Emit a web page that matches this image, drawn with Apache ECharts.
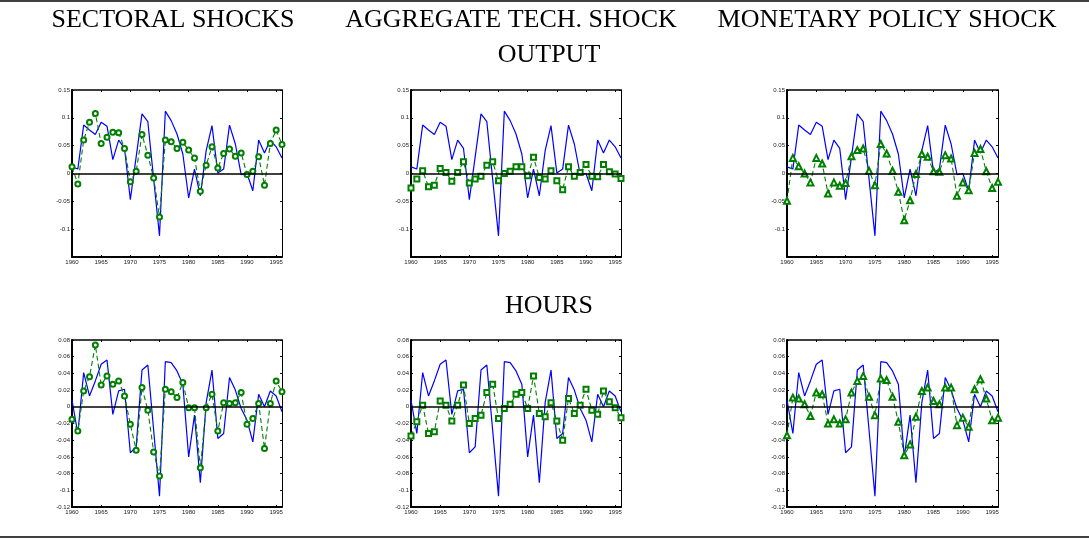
<!DOCTYPE html>
<html>
<head>
<meta charset="utf-8">
<title>Output and hours</title>
<script src="https://cdn.jsdelivr.net/npm/echarts@6/dist/echarts.min.js"></script>
<style>
  html, body { margin: 0; padding: 0; background: #fff; }
  #myChart { width: 1089px; height: 541px; }
</style>
</head>
<body>
<div id="myChart"></div>
<script>
var years = [1960,1961,1962,1963,1964,1965,1966,1967,1968,1969,1970,1971,1972,1973,1974,1975,1976,1977,1978,1979,1980,1981,1982,1983,1984,1985,1986,1987,1988,1989,1990,1991,1992,1993,1994,1995,1996];

var columnTitles = ['SECTORAL SHOCKS', 'AGGREGATE TECH. SHOCK', 'MONETARY POLICY SHOCK'];
var rowTitles = ['OUTPUT', 'HOURS'];

// actual data (blue)
var outputActual = [0.012,0.008,0.087,0.078,0.070,0.092,0.085,0.025,0.060,0.045,-0.047,0.030,0.107,0.093,-0.010,-0.112,0.112,0.095,0.071,0.035,-0.044,0.008,-0.040,0.041,0.086,0.001,0.008,0.087,0.053,-0.002,0.000,-0.031,0.060,0.037,0.060,0.048,0.028];
var hoursActual = [0.008,-0.032,0.041,0.013,0.031,0.051,0.056,-0.009,0.019,0.021,-0.055,-0.048,0.044,0.050,-0.028,-0.107,0.054,0.053,0.043,0.027,-0.060,-0.010,-0.091,0.005,0.044,-0.038,-0.032,0.035,0.020,-0.002,-0.016,-0.042,0.015,0.000,0.019,0.013,-0.006];

// simulated (green)
var outputSectoral = [0.012,-0.019,0.060,0.092,0.108,0.054,0.065,0.074,0.073,0.045,-0.015,0.004,0.070,0.033,-0.008,-0.078,0.060,0.057,0.045,0.056,0.042,0.028,-0.032,0.015,0.048,0.010,0.036,0.044,0.031,0.037,-0.002,0.004,0.030,-0.021,0.054,0.078,0.052];
var outputTech = [-0.026,-0.010,0.005,-0.024,-0.021,0.009,0.002,-0.014,0.002,0.021,-0.017,-0.010,-0.005,0.015,0.021,-0.013,0.000,0.004,0.012,0.012,-0.004,0.029,-0.007,-0.010,0.005,-0.013,-0.029,0.012,-0.005,0.002,0.016,-0.005,-0.006,0.016,0.003,-0.001,-0.009];
var outputMonetary = [-0.049,0.028,0.013,0.000,-0.016,0.028,0.018,-0.036,-0.016,-0.022,-0.017,0.031,0.042,0.045,0.005,-0.021,0.053,0.036,0.005,-0.033,-0.084,-0.048,-0.001,0.035,0.030,0.004,0.003,0.033,0.027,-0.040,-0.016,-0.030,0.037,0.044,0.004,-0.026,-0.015];
var hoursSectoral = [-0.015,-0.029,0.019,0.036,0.074,0.026,0.037,0.027,0.031,0.013,-0.021,-0.052,0.023,-0.004,-0.054,-0.083,0.021,0.018,0.011,0.029,-0.001,-0.001,-0.073,-0.001,0.015,-0.029,0.005,0.004,0.005,0.017,-0.021,-0.014,0.004,-0.050,0.004,0.031,0.018];
var hoursTech = [-0.035,-0.018,0.002,-0.032,-0.030,0.007,0.002,-0.017,0.002,0.026,-0.020,-0.014,-0.010,0.017,0.027,-0.014,-0.002,0.003,0.015,0.017,-0.002,0.037,-0.008,-0.012,0.005,-0.017,-0.040,0.010,-0.008,0.002,0.021,-0.004,-0.009,0.019,0.006,-0.001,-0.013];
var hoursMonetary = [-0.034,0.011,0.010,0.003,-0.011,0.017,0.015,-0.020,-0.015,-0.020,-0.015,0.017,0.031,0.037,0.012,-0.010,0.034,0.032,0.012,-0.018,-0.058,-0.045,-0.012,0.019,0.023,0.007,0.003,0.023,0.023,-0.022,-0.013,-0.024,0.021,0.033,0.010,-0.016,-0.013];

var markers = ['emptyCircle', 'emptyRect', 'emptyTriangle'];

var panels = [
  {actual: outputActual, sim: outputSectoral, col: 0, row: 0},
  {actual: outputActual, sim: outputTech, col: 1, row: 0},
  {actual: outputActual, sim: outputMonetary, col: 2, row: 0},
  {actual: hoursActual, sim: hoursSectoral, col: 0, row: 1},
  {actual: hoursActual, sim: hoursTech, col: 1, row: 1},
  {actual: hoursActual, sim: hoursMonetary, col: 2, row: 1}
];

var colLeft = [72, 411, 787];
var colWidth = [210, 210, 211];
var rowTop = [90, 340];
var rowAxis = [
  {min: -0.15, max: 0.15, interval: 0.05, showMin: false},
  {min: -0.12, max: 0.08, interval: 0.02, showMin: true}
];

function pairs(arr) {
  return years.map(function (y, i) { return [y, arr[i]]; });
}

function fmt(v) {
  return '' + (+v.toFixed(2));
}

var grid = [], xAxis = [], yAxis = [], series = [];
var tickLabel = {fontSize: 6, color: '#222', fontFamily: 'Liberation Sans, Arial, sans-serif', margin: 2};
var tick = {show: true, inside: true, length: 2, lineStyle: {color: '#000', width: 1}};

panels.forEach(function (p, k) {
  grid.push({left: colLeft[p.col], top: rowTop[p.row], width: colWidth[p.col], height: 167});
  var ya = rowAxis[p.row];
  // bottom / left axes with labels
  xAxis.push({
    gridIndex: k, type: 'value', min: 1960, max: 1996, interval: 5,
    axisLine: {onZero: false, lineStyle: {color: '#000', width: 2}},
    axisTick: tick,
    axisLabel: Object.assign({showMaxLabel: false, formatter: function (v) { return v; }}, tickLabel),
    splitLine: {show: false}
  });
  // top axis, ticks only
  xAxis.push({
    gridIndex: k, type: 'value', position: 'top', min: 1960, max: 1996, interval: 5,
    axisLine: {onZero: false, lineStyle: {color: '#000', width: 1.5}},
    axisTick: tick,
    axisLabel: {show: false}, splitLine: {show: false}
  });
  yAxis.push({
    gridIndex: k, type: 'value', min: ya.min, max: ya.max, interval: ya.interval,
    axisLine: {show: true, onZero: false, lineStyle: {color: '#000', width: 2}},
    axisTick: tick,
    axisLabel: Object.assign({showMinLabel: ya.showMin, formatter: fmt}, tickLabel),
    splitLine: {show: false}
  });
  yAxis.push({
    gridIndex: k, type: 'value', position: 'right', min: ya.min, max: ya.max, interval: ya.interval,
    axisLine: {show: true, onZero: false, lineStyle: {color: '#000', width: 1}},
    axisTick: tick,
    axisLabel: {show: false}, splitLine: {show: false}
  });

  series.push({
    type: 'line', xAxisIndex: 2 * k, yAxisIndex: 2 * k,
    data: pairs(p.actual), showSymbol: false, symbol: 'none',
    lineStyle: {color: '#0000ff', width: 1.2},
    z: 3,
    markLine: {
      silent: true, symbol: 'none', label: {show: false},
      lineStyle: {color: '#000', width: 1.5, type: 'solid'},
      data: [{yAxis: 0}]
    }
  });
  series.push({
    type: 'line', xAxisIndex: 2 * k, yAxisIndex: 2 * k,
    data: pairs(p.sim),
    symbol: markers[p.col], symbolSize: p.col === 2 ? 6 : 5,
    itemStyle: {color: '#008000', borderWidth: 1},
    lineStyle: {color: '#008000', width: 1.1, type: [5, 3]},
    z: 4
  });
});

var titleFont = {fontSize: 26, fontFamily: 'Liberation Serif, Times New Roman, serif', fill: '#000'};
var graphic = [
  {type: 'line', shape: {x1: 0, y1: 1, x2: 1089, y2: 1}, style: {stroke: '#000', lineWidth: 1.5}},
  {type: 'line', shape: {x1: 0, y1: 537, x2: 1089, y2: 537}, style: {stroke: '#000', lineWidth: 1.5}}
];
var colCenter = [173, 511, 887];
columnTitles.forEach(function (t, i) {
  graphic.push({type: 'text', x: colCenter[i], y: 20, style: Object.assign({text: t, align: 'center', verticalAlign: 'middle'}, titleFont)});
});
graphic.push({type: 'text', x: 549, y: 55, style: Object.assign({text: rowTitles[0], align: 'center', verticalAlign: 'middle'}, titleFont)});
graphic.push({type: 'text', x: 549, y: 306, style: Object.assign({text: rowTitles[1], align: 'center', verticalAlign: 'middle'}, titleFont)});

var myChart = echarts.init(document.getElementById('myChart'));
myChart.setOption({
  animation: false,
  backgroundColor: '#fff',
  grid: grid,
  xAxis: xAxis,
  yAxis: yAxis,
  series: series,
  graphic: graphic
});
</script>
</body>
</html>
